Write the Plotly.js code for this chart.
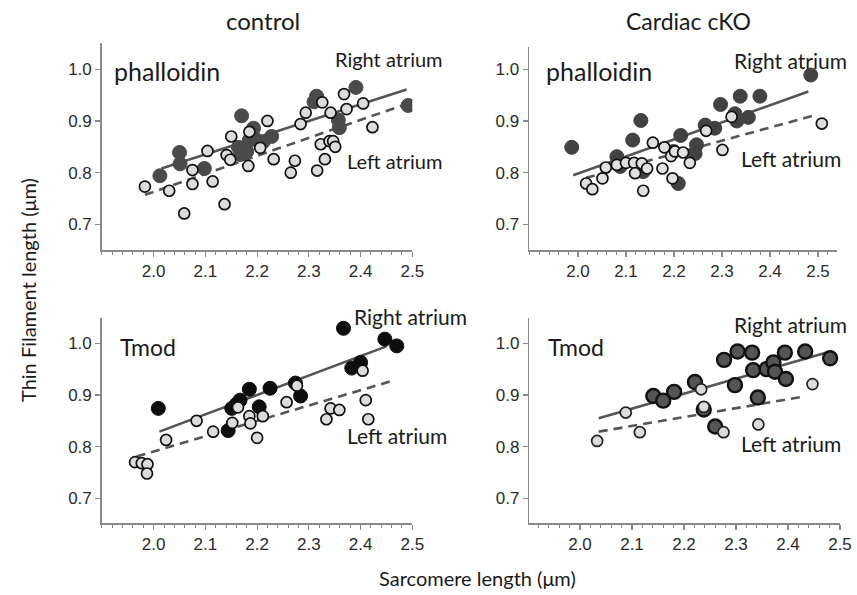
<!DOCTYPE html>
<html>
<head>
<meta charset="utf-8">
<script src="https://cdn.plot.ly/plotly-3.0.1.min.js"></script>
<style>html,body{margin:0;padding:0;background:#fff;}#chart{width:857px;height:595px;}</style>
</head>
<body>
<div id="chart"></div>
<script>
// ---------------- DATA ----------------
// control, phalloidin
var ctrlPhalRA_x = [2.012,2.050,2.051,2.098,2.170,2.164,2.167,2.180,2.193,2.185,2.199,2.212,2.228,2.315,2.310,2.357,2.359,2.391,2.492];
var ctrlPhalRA_y = [0.794,0.839,0.817,0.808,0.910,0.849,0.835,0.841,0.886,0.863,0.863,0.860,0.870,0.948,0.937,0.902,0.887,0.965,0.930];
var ctrlPhalLA_x = [1.983,2.030,2.059,2.075,2.075,2.104,2.114,2.137,2.141,2.148,2.150,2.183,2.185,2.206,2.220,2.232,2.265,2.273,2.284,2.294,2.316,2.323,2.326,2.331,2.340,2.347,2.351,2.342,2.368,2.373,2.405,2.423];
var ctrlPhalLA_y = [0.773,0.765,0.721,0.805,0.778,0.842,0.783,0.739,0.834,0.825,0.870,0.813,0.879,0.848,0.900,0.826,0.800,0.823,0.894,0.916,0.804,0.855,0.936,0.826,0.861,0.861,0.850,0.916,0.952,0.923,0.934,0.888];
var ctrlPhalRA_fitX = [2.015,2.489];
var ctrlPhalRA_fitY = [0.808,0.961];
var ctrlPhalLA_fitX = [1.983,2.486];
var ctrlPhalLA_fitY = [0.757,0.932];

// Cardiac cKO, phalloidin
var koPhalRA_x = [1.987,2.081,2.088,2.114,2.131,2.136,2.199,2.209,2.214,2.247,2.244,2.265,2.285,2.297,2.327,2.331,2.338,2.355,2.379,2.485];
var koPhalRA_y = [0.849,0.831,0.812,0.863,0.901,0.802,0.841,0.779,0.872,0.854,0.837,0.892,0.886,0.932,0.914,0.900,0.948,0.907,0.948,0.989];
var koPhalLA_x = [2.017,2.030,2.051,2.058,2.081,2.100,2.117,2.119,2.133,2.136,2.144,2.156,2.176,2.180,2.194,2.197,2.202,2.219,2.233,2.267,2.301,2.320,2.508];
var koPhalLA_y = [0.779,0.768,0.789,0.810,0.815,0.819,0.819,0.799,0.818,0.765,0.808,0.858,0.808,0.849,0.832,0.789,0.841,0.839,0.819,0.881,0.844,0.908,0.895];
var koPhalRA_fitX = [1.990,2.480];
var koPhalRA_fitY = [0.795,0.957];
var koPhalLA_fitX = [2.017,2.497];
var koPhalLA_fitY = [0.790,0.912];

// control, Tmod
var ctrlTmodRA_x = [2.009,2.144,2.151,2.160,2.167,2.185,2.204,2.225,2.274,2.284,2.367,2.383,2.400,2.447,2.470];
var ctrlTmodRA_y = [0.874,0.831,0.874,0.882,0.890,0.911,0.877,0.913,0.923,0.898,1.029,0.952,0.963,1.008,0.995];
var ctrlTmodLA_x = [1.964,1.977,1.988,1.987,2.024,2.083,2.115,2.152,2.163,2.185,2.187,2.200,2.211,2.257,2.277,2.334,2.342,2.359,2.404,2.410,2.415];
var ctrlTmodLA_y = [0.770,0.768,0.766,0.748,0.813,0.850,0.829,0.846,0.876,0.859,0.845,0.817,0.859,0.886,0.918,0.853,0.874,0.871,0.947,0.890,0.853];
var ctrlTmodRA_fitX = [2.011,2.450];
var ctrlTmodRA_fitY = [0.829,0.994];
var ctrlTmodLA_fitX = [1.967,2.467];
var ctrlTmodLA_fitY = [0.781,0.929];

// Cardiac cKO, Tmod
var koTmodRA_x = [2.141,2.160,2.181,2.221,2.238,2.260,2.277,2.298,2.303,2.331,2.333,2.342,2.359,2.372,2.375,2.394,2.396,2.433,2.481];
var koTmodRA_y = [0.898,0.889,0.906,0.925,0.872,0.839,0.968,0.919,0.984,0.982,0.948,0.895,0.950,0.963,0.945,0.982,0.931,0.984,0.971];
var koTmodLA_x = [2.033,2.088,2.115,2.233,2.238,2.276,2.343,2.447];
var koTmodLA_y = [0.811,0.866,0.828,0.911,0.877,0.828,0.843,0.921];
var koTmodRA_fitX = [2.036,2.481];
var koTmodRA_fitY = [0.855,0.984];
var koTmodLA_fitX = [2.036,2.431];
var koTmodLA_fitY = [0.829,0.897];

var xTickVals = [2.0,2.1,2.2,2.3,2.4,2.5];
var xTickText = ['2.0','2.1','2.2','2.3','2.4','2.5'];
var yTickVals = [0.7,0.8,0.9,1.0];
var yTickText = ['0.7','0.8','0.9','1.0'];

// ---------------- LAYOUT HELPERS ----------------
var W = 857, H = 595;
function fx(p){ return p / W; }
function fy(p){ return 1 - p / H; }

var LINE_COL = '#555555';
var AX_COL = '#8a8a8a';
var TXT = '"Lato", "Open Sans", sans-serif';

function fitLine(x, y, dashed, xa, ya){
  return {x:x, y:y, mode:'lines', xaxis:xa, yaxis:ya, hoverinfo:'skip', showlegend:false,
          line:{color:LINE_COL, width:2.6, dash: dashed ? '9px,6px' : 'solid'}};
}
function pts(x, y, fill, lineCol, lineW, size, xa, ya){
  return {x:x, y:y, mode:'markers', xaxis:xa, yaxis:ya, showlegend:false,
          marker:{size:size, color:fill, line:{color:lineCol, width:lineW}}};
}

var traces = [
  fitLine(ctrlPhalRA_fitX, ctrlPhalRA_fitY, false, 'x', 'y'),
  fitLine(ctrlPhalLA_fitX, ctrlPhalLA_fitY, true, 'x', 'y'),
  pts(ctrlPhalRA_x, ctrlPhalRA_y, '#4a4a4a', '#4a4a4a', 1, 14, 'x', 'y'),
  pts(ctrlPhalLA_x, ctrlPhalLA_y, '#dcdcdc', '#111111', 1.7, 11, 'x', 'y'),

  fitLine(koPhalRA_fitX, koPhalRA_fitY, false, 'x2', 'y2'),
  fitLine(koPhalLA_fitX, koPhalLA_fitY, true, 'x2', 'y2'),
  pts(koPhalRA_x, koPhalRA_y, '#424242', '#424242', 1, 14, 'x2', 'y2'),
  pts(koPhalLA_x, koPhalLA_y, '#e0e0e0', '#111111', 1.7, 11, 'x2', 'y2'),

  fitLine(ctrlTmodRA_fitX, ctrlTmodRA_fitY, false, 'x3', 'y3'),
  fitLine(ctrlTmodLA_fitX, ctrlTmodLA_fitY, true, 'x3', 'y3'),
  pts(ctrlTmodRA_x, ctrlTmodRA_y, '#0d0d0d', '#0d0d0d', 1, 14, 'x3', 'y3'),
  pts(ctrlTmodLA_x, ctrlTmodLA_y, '#dcdcdc', '#111111', 1.7, 11, 'x3', 'y3'),

  fitLine(koTmodRA_fitX, koTmodRA_fitY, false, 'x4', 'y4'),
  fitLine(koTmodLA_fitX, koTmodLA_fitY, true, 'x4', 'y4'),
  pts(koTmodRA_x, koTmodRA_y, '#555555', '#111111', 2.4, 14, 'x4', 'y4'),
  pts(koTmodLA_x, koTmodLA_y, '#dcdcdc', '#222222', 1.7, 11, 'x4', 'y4')
];

function xAxis(range, d0, d1, anchor){
  return {range:range, domain:[fx(d0), fx(d1)], anchor:anchor,
    showgrid:false, zeroline:false, showline:true, linecolor:AX_COL, linewidth:1.5,
    ticks:'outside', ticklen:5, tickwidth:1.2, tickcolor:AX_COL,
    tickvals:xTickVals, ticktext:xTickText,
    minor:{dtick:0.02, tick0:2.0, ticks:'outside', ticklen:3, tickwidth:1, tickcolor:AX_COL, showgrid:false},
    tickfont:{family:'"Liberation Sans", Arial, sans-serif', size:17, color:'#2a2a2a'},
    fixedrange:true};
}
function yAxis(range, top, bottom, anchor){
  return {range:range, domain:[fy(bottom), fy(top)], anchor:anchor,
    showgrid:false, zeroline:false, showline:true, linecolor:AX_COL, linewidth:1.5,
    ticks:'outside', ticklen:5, tickwidth:1.2, tickcolor:AX_COL,
    tickvals:yTickVals, ticktext:yTickText,
    tickfont:{family:'"Liberation Sans", Arial, sans-serif', size:17, color:'#2a2a2a'},
    fixedrange:true};
}

function ann(text, x, y, size, xanchor, extra){
  var a = {text:text, x:fx(x), y:fy(y), xref:'paper', yref:'paper', showarrow:false,
    xanchor:xanchor, yanchor:'middle', font:{family:TXT, size:size, color:'#1a1a1a'}};
  if (extra) for (var k in extra) a[k] = extra[k];
  return a;
}

var layout = {
  width:W, height:H, margin:{l:0, r:0, t:0, b:0},
  paper_bgcolor:'#ffffff', plot_bgcolor:'#ffffff', showlegend:false,
  xaxis:  xAxis([1.8995, 2.5], 101.7, 412.3, 'y'),
  yaxis:  yAxis([0.6503, 1.0509], 43, 250, 'x'),
  xaxis2: xAxis([1.898, 2.5396], 529, 837, 'y2'),
  yaxis2: yAxis([0.6503, 1.0432], 47, 250, 'x2'),
  xaxis3: xAxis([1.8995, 2.5], 101.7, 412.3, 'y3'),
  yaxis3: yAxis([0.6516, 1.0484], 318.3, 523.3, 'x3'),
  xaxis4: xAxis([1.9025, 2.5], 529.3, 840, 'y4'),
  yaxis4: yAxis([0.6516, 1.0484], 318.3, 523.3, 'x4'),
  annotations: [
    ann('control', 263, 21, 24, 'center'),
    ann('Cardiac cKO', 688, 21, 23, 'center'),
    ann('phalloidin', 112, 71, 25, 'left'),
    ann('Right atrium', 333, 59, 20, 'left'),
    ann('Left atrium', 345, 161, 20, 'left'),
    ann('phalloidin', 544, 71, 25, 'left'),
    ann('Right atrium', 732, 61, 21, 'left'),
    ann('Left atrium', 739, 159, 21, 'left'),
    ann('Tmod', 118, 347, 23, 'left'),
    ann('Right atrium', 352, 316, 21, 'left'),
    ann('Left atrium', 345, 436, 21, 'left'),
    ann('Tmod', 546, 347, 23, 'left'),
    ann('Right atrium', 732, 325, 21, 'left'),
    ann('Left atrium', 739, 443, 21, 'left'),
    ann('Thin Filament length (\u03bcm)', 28, 290, 20, 'center', {textangle:-90}),
    ann('Sarcomere length (\u03bcm)', 477, 578, 20, 'center')
  ]
};

Plotly.newPlot('chart', traces, layout, {staticPlot:true, displayModeBar:false});
</script>
</body>
</html>
